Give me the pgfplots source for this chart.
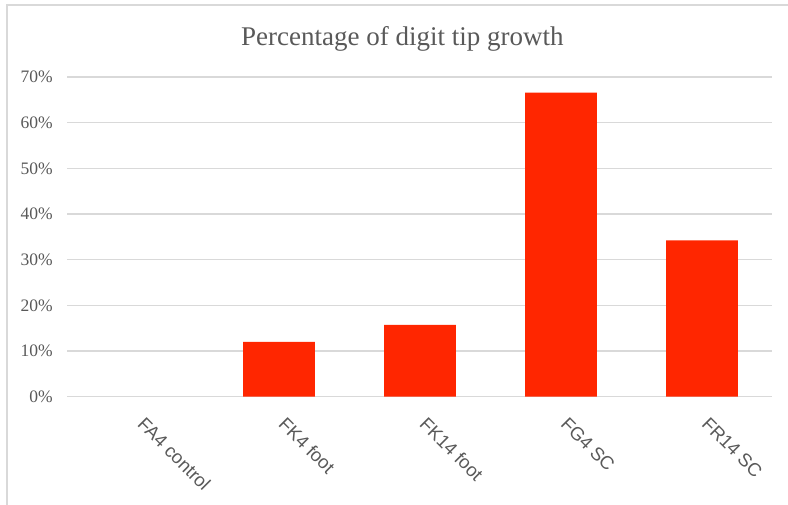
\documentclass[border=0pt]{standalone}
\usepackage{fontspec}
\setmainfont{Liberation Serif}
\newfontfamily\arialf{Liberation Sans}
\usepackage{pgfplots}
\pgfplotsset{compat=1.18}
\definecolor{barred}{RGB}{255,38,0}
\definecolor{txtgray}{RGB}{89,89,89}
\definecolor{gridgray}{RGB}{217,217,217}
\begin{document}
\begin{tikzpicture}
\begin{axis}[
  at={(67.5pt,108.3pt)}, anchor=south west,
  scale only axis, width=705pt, height=319.7pt,
  xmin=-0.5, xmax=4.5, ymin=0, ymax=70,
  axis line style={draw=none},
  major tick length=0pt,
  ymajorgrids, grid style={gridgray, line width=1.2pt},
  ytick={0,10,...,70},
  yticklabel={\pgfmathprintnumber{\tick}\%},
  /pgf/number format/assume math mode=true,
  yticklabel style={font=\fontsize{17.5}{17.5}\selectfont, text=txtgray, anchor=east, inner sep=0pt, xshift=-14.5pt},
  xtick={0,1,2,3,4},
  xticklabels={FA4 control, FK4 foot, FK14 foot, FG4 SC, FR14 SC},
  xticklabel shift=19pt,
  xticklabel style={xshift=8pt, rotate=-45, anchor=north west, inner sep=0pt, font=\arialf\fontsize{18.5}{18.5}\selectfont, text=txtgray},
  title={Percentage of digit tip growth},
  title style={at={(axis description cs:0.475,1)}, anchor=base, yshift=25pt, font=\fontsize{27}{27}\selectfont, text=txtgray},
]
% FA4 control = 0% (no visible bar)
\addplot[ybar, fill=barred, draw=none, bar width=0.51] coordinates {(1,12.0) (2,15.7) (3,66.6) (4,34.2)};
\end{axis}
\draw[gridgray, line width=1.5pt] (7pt,-5pt) -- (7pt,500pt) -- (795pt,500pt);
\pgfresetboundingbox
\useasboundingbox (0pt,0pt) rectangle (788pt,505pt);
\end{tikzpicture}
\end{document}
